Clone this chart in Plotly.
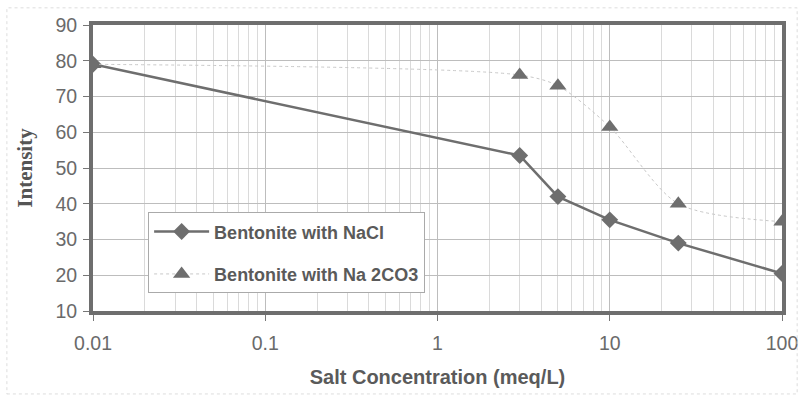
import plotly.graph_objects as go

conc = [0.01, 3, 5, 10, 25, 100]
nacl = [79, 53.5, 42, 35.5, 29, 20.5]
na2co3 = [79, 76, 73, 61.5, 40, 35]
x_ticks = [0.01, 0.1, 1, 10, 100]
x_labels = ["0.01", "0.1", "1", "10", "100"]
y_ticks = [10, 20, 30, 40, 50, 60, 70, 80, 90]

gray = "#6e6e6e"
fig = go.Figure()
fig.add_trace(go.Scatter(
    x=conc, y=nacl, name="<b>Bentonite with NaCl</b>", mode="lines+markers",
    legendgroup="a",
    line=dict(color=gray, width=2.5),
    marker=dict(symbol="diamond", size=13, color=gray),
))
fig.add_trace(go.Scatter(
    x=conc, y=na2co3, name="<b>Bentonite with Na 2CO3</b>", mode="lines+markers",
    legendgroup="b",
    line=dict(color="#c8c8c8", width=1, dash="dot", shape="spline", smoothing=0.8),
    marker=dict(symbol="triangle-up", size=15, color=gray),
))

fig.update_layout(
    width=801, height=397,
    margin=dict(l=93, r=19, t=25, b=86, autoexpand=False),
    paper_bgcolor="white", plot_bgcolor="white",
    font=dict(family="Arial, Liberation Sans", color="#666666"),
    xaxis=dict(
        type="log", range=[-2, 2], automargin=False,
        tickvals=x_ticks, ticktext=x_labels,
        tickfont=dict(size=19.5, color="#6a6a6a"),
        ticks="outside", ticklen=6, tickcolor="#777",
        ticklabelstandoff=6,
        showgrid=True, gridcolor="#bdbdbd", gridwidth=1,
        minor=dict(showgrid=True, gridcolor="#dadada", gridwidth=1, dtick="D1"),
        showline=True, linecolor="#6e6e6e", linewidth=4, mirror=True,
        zeroline=False,
        title=dict(text="<b>Salt Concentration (meq/L)</b>", standoff=18,
                   font=dict(size=20, color="#5a5a5a")),
    ),
    yaxis=dict(
        range=[10, 90], tickvals=y_ticks, automargin=False,
        tickfont=dict(size=19.5, color="#6a6a6a"),
        ticks="outside", ticklen=6, tickcolor="#777",
        ticklabelstandoff=2,
        showgrid=True, gridcolor="#bdbdbd", gridwidth=1,
        showline=True, linecolor="#6e6e6e", linewidth=4, mirror=True,
        zeroline=False,
        title=dict(text="<b>Intensity</b>", standoff=18,
                   font=dict(size=21, color="#555555",
                             family="Liberation Serif, Times New Roman, serif")),
    ),
    legend=dict(
        x=0.08, y=0.345, xanchor="left", yanchor="top",
        bgcolor="white", bordercolor="#aaaaaa", borderwidth=1,
        font=dict(size=18, color="#5a5a5a", family="Arial, Liberation Sans"),
        itemwidth=55, tracegroupgap=16,
        entrywidth=282,
    ),
    showlegend=True,
)
fig.add_shape(type="rect", xref="paper", yref="paper",
              x0=-0.125, x1=1.022, y0=-0.29, y1=1.06,
              line=dict(color="#dddddd", width=1, dash="dot"))
fig.write_html("out.html")
